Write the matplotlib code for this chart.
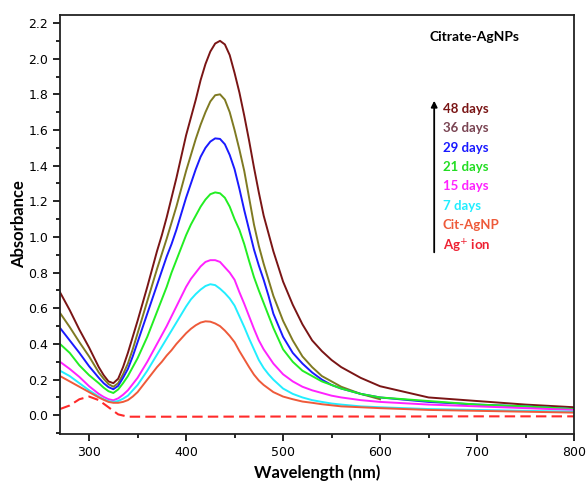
import numpy as np
import matplotlib
matplotlib.use("Agg")
import matplotlib.pyplot as plt
from matplotlib.ticker import MultipleLocator, FormatStrFormatter

# wavelength grid (nm)
wl = [270, 280, 290, 300, 310,
      315, 320, 325, 330, 335, 340, 345, 350, 355, 360, 365, 370, 375, 380, 385, 390, 395,
      400, 405, 410, 415, 420, 425, 430, 435, 440, 445, 450, 455, 460, 465, 470, 475, 480,
      485, 490,
      500, 510, 520, 530, 540, 550, 560,
      580, 600, 650, 700, 750, 800]

d48 = [0.69, 0.59, 0.48, 0.38, 0.27,
       0.225, 0.19, 0.18, 0.205, 0.27, 0.35, 0.44, 0.53, 0.625, 0.72, 0.82, 0.92, 1.01, 1.11,
       1.22, 1.33, 1.45, 1.57, 1.67, 1.77, 1.88, 1.97, 2.04, 2.085, 2.10, 2.08, 2.02, 1.92,
       1.81, 1.68, 1.54, 1.39, 1.25, 1.12, 1.02, 0.92,
       0.75, 0.62, 0.51, 0.42, 0.36, 0.31, 0.27,
       0.21, 0.163, 0.10, 0.08, 0.06, 0.045]
wl36 = wl[:50]
d36 = [0.574, 0.495, 0.41, 0.33, 0.24,
       0.205, 0.175, 0.16, 0.18, 0.23, 0.29, 0.37, 0.46, 0.55, 0.64, 0.73, 0.82, 0.905, 0.99,
       1.08, 1.17, 1.27, 1.37, 1.46, 1.55, 1.63, 1.70, 1.76, 1.795, 1.80, 1.77, 1.70, 1.60,
       1.49, 1.37, 1.22, 1.07, 0.95, 0.85, 0.76, 0.67,
       0.53, 0.42, 0.33, 0.27, 0.22, 0.19, 0.16,
       0.12, 0.09]
d29 = [0.49, 0.42, 0.35, 0.275, 0.21,
       0.18, 0.158, 0.146, 0.165, 0.21, 0.26, 0.33, 0.41, 0.49, 0.57, 0.65, 0.73, 0.81, 0.89,
       0.96, 1.04, 1.13, 1.22, 1.30, 1.38, 1.45, 1.50, 1.535, 1.553, 1.55, 1.52, 1.46, 1.38,
       1.27, 1.15, 1.04, 0.93, 0.84, 0.76, 0.67, 0.57,
       0.44, 0.35, 0.29, 0.24, 0.20, 0.17, 0.15,
       0.12, 0.10, 0.075, 0.06, 0.05, 0.035]
d21 = [0.40, 0.35, 0.28, 0.225, 0.18,
       0.155, 0.135, 0.125, 0.145, 0.18, 0.22, 0.27, 0.32, 0.38, 0.44, 0.51, 0.58, 0.65, 0.72,
       0.80, 0.87, 0.94, 1.01, 1.07, 1.12, 1.17, 1.21, 1.24, 1.25, 1.245, 1.22, 1.17, 1.10,
       1.04, 0.96, 0.865, 0.775, 0.70, 0.63, 0.56, 0.49,
       0.37, 0.30, 0.25, 0.22, 0.19, 0.17, 0.15,
       0.12, 0.10, 0.08, 0.06, 0.05, 0.035]
d15 = [0.30, 0.26, 0.215, 0.163, 0.12,
       0.103, 0.09, 0.084, 0.095, 0.115, 0.14, 0.175, 0.21, 0.255, 0.30, 0.35, 0.40, 0.45, 0.50,
       0.555, 0.61, 0.665, 0.72, 0.765, 0.80, 0.835, 0.86, 0.87, 0.87, 0.86, 0.83, 0.80, 0.76,
       0.69, 0.625, 0.555, 0.485, 0.42, 0.37, 0.33, 0.29,
       0.23, 0.19, 0.16, 0.14, 0.125, 0.11, 0.10,
       0.085, 0.075, 0.06, 0.05, 0.04, 0.03]
d7 = [0.25, 0.22, 0.18, 0.14, 0.105,
      0.09, 0.08, 0.075, 0.08, 0.093, 0.11, 0.14, 0.17, 0.21, 0.25, 0.295, 0.34, 0.385, 0.43,
      0.475, 0.52, 0.565, 0.61, 0.65, 0.68, 0.705, 0.725, 0.735, 0.73, 0.71, 0.685, 0.655, 0.615,
      0.555, 0.495, 0.43, 0.37, 0.31, 0.265, 0.23, 0.20,
      0.15, 0.12, 0.10, 0.085, 0.075, 0.066, 0.06,
      0.05, 0.045, 0.035, 0.03, 0.025, 0.02]
cit = [0.22, 0.19, 0.16, 0.13, 0.10,
       0.087, 0.075, 0.07, 0.07, 0.075, 0.085, 0.105, 0.13, 0.165, 0.20, 0.235, 0.27, 0.30, 0.335,
       0.365, 0.40, 0.43, 0.46, 0.485, 0.505, 0.52, 0.527, 0.525, 0.515, 0.50, 0.475, 0.445, 0.41,
       0.36, 0.315, 0.27, 0.228, 0.195, 0.17, 0.15, 0.13,
       0.105, 0.09, 0.077, 0.07, 0.062, 0.056, 0.05,
       0.045, 0.04, 0.03, 0.025, 0.02, 0.015]
wl_ag = [270, 280, 290, 300, 310, 320, 330, 340, 400, 500, 600, 700, 800]
ag = [0.035, 0.055, 0.09, 0.105, 0.085, 0.045, 0.005, -0.008, -0.008, -0.007, -0.007, -0.006, -0.006]

labels = ['48 days', '36 days', '29 days', '21 days', '15 days', '7 days', 'Cit-AgNP', 'Ag$^{+}$ ion']
label_colors = ['#7a1515', '#7a4553', '#1a1aff', '#22dd22', '#ff22ff', '#22eeff', '#ee5a3a', '#ee2233']

fig = plt.figure(figsize=(5.87, 4.86), dpi=100)
ax = fig.add_axes([60/587, 52/486, 514/587, 419/486])

lw = 1.4
ax.plot(wl, d48, color='#7a1515', lw=lw)
ax.plot(wl36, d36, color='#7f7a22', lw=lw)
ax.plot(wl, d29, color='#1a1aff', lw=lw)
ax.plot(wl, d21, color='#22ee22', lw=lw)
ax.plot(wl, d15, color='#ff22ff', lw=lw)
ax.plot(wl, d7, color='#22eeff', lw=lw)
ax.plot(wl, cit, color='#ee5a3a', lw=lw)
ax.plot(wl_ag, ag, color='#ff2a2a', lw=1.5, dashes=(5, 2.5))

ax.set_xlim(270, 800)
ax.set_ylim(-0.105, 2.245)
ax.xaxis.set_major_locator(MultipleLocator(100))
ax.xaxis.set_minor_locator(MultipleLocator(50))
ax.yaxis.set_major_locator(MultipleLocator(0.2))
ax.yaxis.set_minor_locator(MultipleLocator(0.1))
ax.yaxis.set_major_formatter(FormatStrFormatter('%.1f'))
ax.tick_params(which='major', direction='out', length=5, width=1.2, labelsize=9)
ax.tick_params(which='minor', direction='out', length=3, width=1.2)
for s in ax.spines.values():
    s.set_linewidth(1.3)
    s.set_color('#222222')

ax.set_xlabel('Wavelength (nm)', family='Lato', fontweight='bold', fontsize=12, labelpad=4)
ax.set_ylabel('Absorbance', family='Lato', fontweight='bold', fontsize=12, labelpad=1)

ax.text(0.807, 0.947, 'Citrate-AgNPs', transform=ax.transAxes, family='Lato',
        fontweight='bold', fontsize=10, ha='center', va='center')

ax.annotate('', xy=(0.728, 0.802), xytext=(0.728, 0.427), xycoords='axes fraction',
            arrowprops=dict(arrowstyle='-|>', color='black', lw=1.3, mutation_scale=9))
y0 = 0.776
for i, (lab, c) in enumerate(zip(labels, label_colors)):
    yy = y0 - i * 0.0463
    if i == 7:
        yy -= 0.005
    ax.text(0.745, yy, lab, transform=ax.transAxes, color=c, family='Lato',
            fontweight='bold', fontsize=9.5, ha='left', va='center')

fig.savefig('out.png', dpi=100)
